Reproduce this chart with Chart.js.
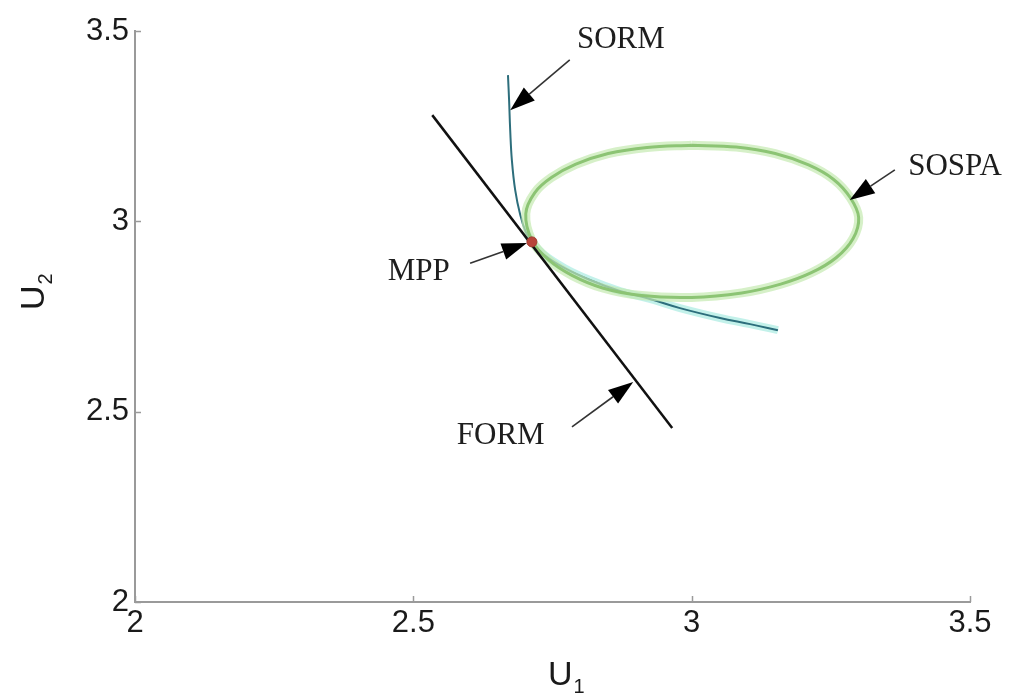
<!DOCTYPE html>
<html>
<head>
<meta charset="utf-8">
<script src="https://cdn.jsdelivr.net/npm/chart.js@4/dist/chart.umd.min.js"></script>
<style>
html,body{margin:0;padding:0;background:#fff;}
#wrap{width:1017px;height:696px;position:relative;}
</style>
</head>
<body>
<div id="wrap"><canvas id="c" width="1017" height="696"></canvas></div>
<script>
// ---- data ----
const xTickValues = [2, 2.5, 3, 3.5];
const xTickLabels = ['2', '2.5', '3', '3.5'];
const yTickValues = [2, 2.5, 3, 3.5];
const yTickLabels = ['2', '2.5', '3', '3.5'];

const formX = [2.534, 2.965];
const formY = [3.279, 2.457];

const sormX = [2.670, 2.672, 2.674, 2.677, 2.683, 2.692, 2.702, 2.713, 2.736, 2.772, 2.817, 2.871, 2.925, 2.979, 3.051, 3.105, 3.155];
const sormY = [3.384, 3.319, 3.240, 3.161, 3.082, 3.017, 2.972, 2.946, 2.911, 2.877, 2.846, 2.817, 2.796, 2.772, 2.746, 2.730, 2.714];

// SOSPA closed contour, starting at its top
const sospaX = [3.000, 3.080, 3.150, 3.210, 3.255, 3.285, 3.300, 3.290, 3.260, 3.215, 3.160, 3.090, 3.000, 2.910, 2.840, 2.785, 2.742, 2.713, 2.702, 2.718, 2.748, 2.792, 2.850, 2.920, 3.000];
const sospaY = [3.200, 3.195, 3.178, 3.148, 3.110, 3.062, 3.010, 2.955, 2.905, 2.865, 2.835, 2.812, 2.800, 2.805, 2.825, 2.858, 2.900, 2.950, 3.020, 3.075, 3.115, 3.150, 3.178, 3.194, 3.200];

const mppX = [2.713];
const mppY = [2.946];

const noteTexts = ['SORM', 'SOSPA', 'MPP', 'FORM'];
const noteX = [2.794, 3.389, 2.454, 2.578];
const noteY = [3.476, 3.143, 2.867, 2.436];
const arrowTailX = [2.781, 3.365, 2.602, 2.785];
const arrowTailY = [3.424, 3.135, 2.890, 2.460];
const arrowTipX = [2.674, 3.284, 2.704, 2.895];
const arrowTipY = [3.292, 3.056, 2.943, 2.578];

const xTitle = 'U', xTitleSub = '1';
const yTitle = 'U', yTitleSub = '2';

// ---- helpers ----
const zip = (xs, ys) => xs.map((x, i) => ({x: x, y: ys[i]}));

const innerTicks = {
  id: 'innerTicks',
  afterDraw(chart) {
    const {ctx, chartArea: a, scales: {x, y}} = chart;
    ctx.save();
    ctx.strokeStyle = '#9a9a9a';
    ctx.lineWidth = 1.5;
    xTickValues.forEach(v => {
      const px = Math.round(x.getPixelForValue(v)) + 0.5;
      ctx.beginPath(); ctx.moveTo(px, a.bottom); ctx.lineTo(px, a.bottom - 6); ctx.stroke();
    });
    yTickValues.forEach(v => {
      const py = Math.round(y.getPixelForValue(v)) + 0.5;
      ctx.beginPath(); ctx.moveTo(a.left, py); ctx.lineTo(a.left + 6, py); ctx.stroke();
    });
    ctx.restore();
  }
};

const annotations = {
  id: 'annotations',
  afterDatasetsDraw(chart) {
    const {ctx, scales: {x, y}} = chart;
    ctx.save();
    noteTexts.forEach((t, i) => {
      const tx = x.getPixelForValue(arrowTailX[i]), ty = y.getPixelForValue(arrowTailY[i]);
      const hx = x.getPixelForValue(arrowTipX[i]), hy = y.getPixelForValue(arrowTipY[i]);
      const ang = Math.atan2(hy - ty, hx - tx);
      const L = 25, W = 8.5;
      const bx = hx - L * Math.cos(ang), by = hy - L * Math.sin(ang);
      ctx.strokeStyle = '#333';
      ctx.lineWidth = 1.6;
      ctx.beginPath(); ctx.moveTo(tx, ty); ctx.lineTo(bx, by); ctx.stroke();
      ctx.fillStyle = '#000';
      ctx.beginPath();
      ctx.moveTo(hx, hy);
      ctx.lineTo(bx + W * Math.sin(ang), by - W * Math.cos(ang));
      ctx.lineTo(bx - W * Math.sin(ang), by + W * Math.cos(ang));
      ctx.closePath(); ctx.fill();
      ctx.fillStyle = '#1e1e1e';
      ctx.font = '31px "Liberation Serif", "DejaVu Serif", serif';
      ctx.textAlign = 'left';
      ctx.textBaseline = 'middle';
      ctx.fillText(t, x.getPixelForValue(noteX[i]), y.getPixelForValue(noteY[i]));
    });
    ctx.restore();
  }
};

const axisTitles = {
  id: 'axisTitles',
  afterDraw(chart) {
    const {ctx} = chart;
    ctx.save();
    ctx.fillStyle = '#1a1a1a';
    ctx.textBaseline = 'alphabetic';
    // x title
    ctx.font = '34px "Liberation Sans", Arial, sans-serif';
    ctx.textAlign = 'left';
    const ux = 548, uy = 685;
    ctx.fillText(xTitle, ux, uy);
    const w = ctx.measureText(xTitle).width;
    ctx.font = '20px "Liberation Sans", Arial, sans-serif';
    ctx.fillText(xTitleSub, ux + w + 1, uy + 8);
    // y title (rotated)
    ctx.translate(44, 310);
    ctx.rotate(-Math.PI / 2);
    ctx.font = '34px "Liberation Sans", Arial, sans-serif';
    ctx.fillText(yTitle, 0, 0);
    const w2 = ctx.measureText(yTitle).width;
    ctx.font = '20px "Liberation Sans", Arial, sans-serif';
    ctx.fillText(yTitleSub, w2 + 1, 8);
    ctx.restore();
  }
};

const tickFont = {family: '"Liberation Sans", Arial, sans-serif', size: 31};

new Chart(document.getElementById('c'), {
  type: 'scatter',
  data: {
    datasets: [
      {label: 'MPP', data: zip(mppX, mppY), pointRadius: 5, pointBackgroundColor: '#b8453a', pointBorderColor: '#a33a30', pointBorderWidth: 1, showLine: false, order: 0},
      {label: 'FORM', data: zip(formX, formY), showLine: true, borderColor: '#111', borderWidth: 2.5, pointRadius: 0, order: 1},
      {label: 'SOSPA', data: zip(sospaX, sospaY), showLine: true, borderColor: '#8cc474', borderWidth: 3, pointRadius: 0, tension: 0.35, order: 2},
      {label: 'SOSPA glow', data: zip(sospaX, sospaY), showLine: true, borderColor: 'rgba(196,234,176,0.7)', borderWidth: 9, pointRadius: 0, tension: 0.35, order: 3},
      {label: 'SORM', data: zip(sormX, sormY), showLine: true, borderColor: '#2d6e7c', borderWidth: 2, pointRadius: 0, tension: 0.4, order: 4},
      {label: 'SORM glow', data: zip(sormX.slice(6), sormY.slice(6)), showLine: true, borderColor: 'rgba(170,235,225,0.7)', borderWidth: 8, pointRadius: 0, tension: 0.4, order: 5}
    ]
  },
  options: {
    responsive: false,
    animation: false,
    events: [],
    layout: {padding: {left: 0, top: 31, right: 47, bottom: 0}},
    plugins: {legend: {display: false}, tooltip: {enabled: false}},
    scales: {
      x: {
        type: 'linear', min: 2, max: 3.5,
        afterBuildTicks: s => { s.ticks = xTickValues.map(v => ({value: v})); },
        afterFit: s => { s.height = 94; },
        grid: {display: false, drawTicks: false},
        border: {display: true, color: '#9a9a9a', width: 2},
        ticks: {font: tickFont, color: '#1a1a1a', padding: 3, maxRotation: 0,
          callback: (v) => xTickLabels[xTickValues.indexOf(v)]}
      },
      y: {
        type: 'linear', min: 2, max: 3.5,
        afterBuildTicks: s => { s.ticks = yTickValues.map(v => ({value: v})); },
        afterFit: s => { s.width = 135; },
        grid: {display: false, drawTicks: false},
        border: {display: true, color: '#9a9a9a', width: 2},
        ticks: {font: tickFont, color: '#1a1a1a', padding: 6,
          callback: (v) => yTickLabels[yTickValues.indexOf(v)]}
      }
    }
  },
  plugins: [innerTicks, annotations, axisTitles]
});
</script>
</body>
</html>
